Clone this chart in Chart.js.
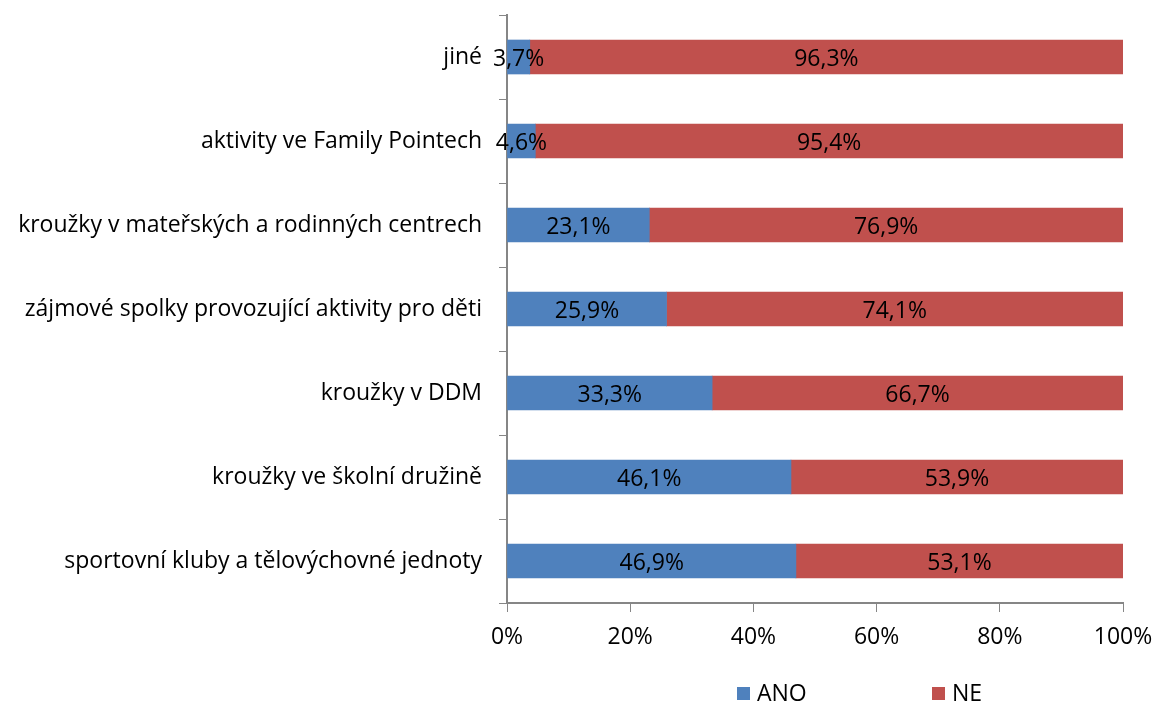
<!DOCTYPE html>
<html>
<head>
<meta charset="utf-8">
<title>Kroužky a aktivity</title>
<script src="https://cdn.jsdelivr.net/npm/chart.js@4"></script>
<style>
  html, body { margin: 0; padding: 0; background: #fff; }
  #wrap { width: 1155px; height: 704px; }
</style>
</head>
<body>
<div id="wrap"><canvas id="chart" width="1155" height="704"></canvas></div>
<script>
// categories, top to bottom
const categories = [
    'jiné',
    'aktivity ve Family Pointech',
    'kroužky v mateřských a rodinných centrech',
    'zájmové spolky provozující aktivity pro děti',
    'kroužky v DDM',
    'kroužky ve školní družině',
    'sportovní kluby a tělovýchovné jednoty'
];
const anoValues = [3.7, 4.6, 23.1, 25.9, 33.3, 46.1, 46.9];
const neValues = [96.3, 95.4, 76.9, 74.1, 66.7, 53.9, 53.1];
const xTicks = [0, 20, 40, 60, 80, 100];

const FONT = '"Open Sans", "DejaVu Sans", sans-serif';
const FONT_SIZE = 23;
const AXIS_GREY = '#868686';

const fmt = v => v.toFixed(1).replace('.', ',') + '%';

// value labels centred in each segment
const segmentLabels = {
    id: 'segmentLabels',
    afterDatasetsDraw(chart) {
        const ctx = chart.ctx;
        ctx.save();
        ctx.font = FONT_SIZE + 'px ' + FONT;
        ctx.fillStyle = '#000';
        ctx.textAlign = 'center';
        ctx.textBaseline = 'middle';
        chart.data.datasets.forEach((ds, i) => {
            chart.getDatasetMeta(i).data.forEach((bar, j) => {
                const cx = (bar.x + bar.base) / 2;
                ctx.fillText(fmt(ds.data[j]), cx, bar.y + 2);
            });
        });
        ctx.restore();
    }
};

// legend under the axis, drawn from dataset labels and colours
const bottomLegend = {
    id: 'bottomLegend',
    afterDraw(chart) {
        const ctx = chart.ctx;
        const xs = [737, 932];
        const y = 693;
        ctx.save();
        ctx.font = FONT_SIZE + 'px ' + FONT;
        ctx.textBaseline = 'middle';
        ctx.textAlign = 'left';
        chart.data.datasets.forEach((ds, i) => {
            ctx.fillStyle = ds.backgroundColor;
            ctx.fillRect(xs[i], y - 6, 13, 13);
            ctx.fillStyle = '#000';
            ctx.fillText(ds.label, xs[i] + 20, y + 1);
        });
        ctx.restore();
    }
};

new Chart(document.getElementById('chart'), {
    type: 'bar',
    data: {
        labels: categories,
        datasets: [
            { label: 'ANO', data: anoValues, backgroundColor: '#4F81BD', barThickness: 34 },
            { label: 'NE', data: neValues, backgroundColor: '#C0504D', barThickness: 34 }
        ]
    },
    options: {
        indexAxis: 'y',
        responsive: false,
        animation: false,
        layout: { padding: { top: 15, right: 32, bottom: 51, left: 0 } },
        plugins: {
            legend: { display: false },
            tooltip: { enabled: false }
        },
        scales: {
            x: {
                stacked: true,
                min: 0,
                max: 100,
                afterBuildTicks: axis => { axis.ticks = xTicks.map(v => ({ value: v })); },
                afterFit: axis => {
                    axis.height = 50;
                    axis.paddingLeft = 0;
                    axis.paddingRight = 0;
                },
                ticks: {
                    color: '#000',
                    font: { family: FONT, size: FONT_SIZE },
                    padding: 12,
                    maxRotation: 0,
                    callback: v => v + '%'
                },
                grid: { drawOnChartArea: false, drawTicks: true, tickLength: 9, color: AXIS_GREY },
                border: { display: true, color: AXIS_GREY, width: 2 }
            },
            y: {
                stacked: true,
                afterFit: axis => {
                    axis.width = 507;
                    axis.paddingTop = 0;
                    axis.paddingBottom = 0;
                },
                ticks: {
                    color: '#000',
                    font: { family: FONT, size: FONT_SIZE },
                    padding: 17
                },
                grid: { offset: true, drawOnChartArea: false, drawTicks: true, tickLength: 8, color: AXIS_GREY },
                border: { display: true, color: AXIS_GREY, width: 2 }
            }
        }
    },
    plugins: [segmentLabels, bottomLegend]
});
</script>
</body>
</html>
